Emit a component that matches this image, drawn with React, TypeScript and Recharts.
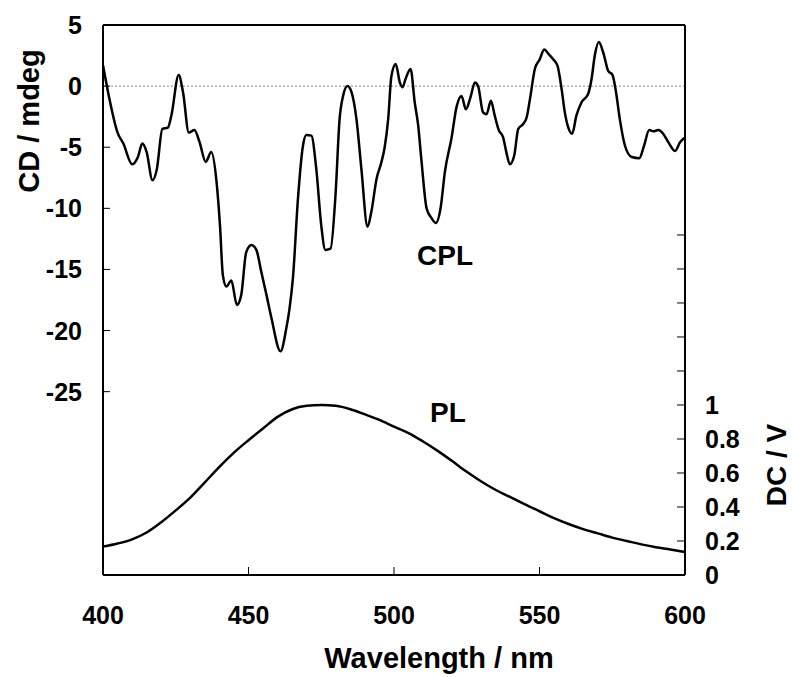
import React from 'react';
import { LineChart, Line, XAxis, YAxis, ReferenceLine } from 'recharts';

// CPL trace (CD / mdeg)
const cplWavelength = [
  400, 402, 405, 407, 410, 412, 413.5, 415, 417, 418.5, 420.4, 422.3, 423.5, 426, 427.5,
  429.5, 431.4, 433.2, 435.3, 437.2, 439, 440.2, 441.2, 442.4, 444.1, 446, 447.5, 449.2,
  451, 452.7, 454.4, 456.1, 457.9, 461, 463, 464.1, 465.3, 467, 468.7, 469.9, 471.6, 473.3,
  475, 476.4, 478.2, 479.9, 481.3, 482.5, 484, 485.4, 487.1, 488.8, 490.9, 492.2, 494,
  495.7, 496.8, 498, 499.1, 500.6, 502, 502.9, 504, 505.7, 507.1, 508.3, 509.4, 511.2,
  512.9, 514.4, 516, 517.5, 519.8, 521.5, 523.2, 524.7, 526.3, 527.8, 528.9, 530.6, 531.8,
  533.3, 534.6, 536, 537.5, 538.6, 539.8, 541.3, 542.7, 544.4, 545.6, 546.7, 548.4, 550.1,
  551.6, 553.2, 554.7, 556.2, 557.6, 558.7, 559.9, 561.2, 562.7, 564.5, 566.7, 567.9, 569,
  570.4, 571.9, 573.6, 575.1, 576.3, 577.6, 579.4, 581.7, 584.3, 585.9, 587.7, 589.1,
  590.8, 592.5, 594.3, 596.6, 598.3, 600,
];
const cplValues = [
  1.7, -0.8, -3.8, -4.7, -6.4, -5.8, -4.7, -5.4, -7.7, -6.8, -3.5, -3.4, -2.4, 0.9, -0.5,
  -3.8, -3.6, -4.6, -6.2, -5.4, -7.8, -11.4, -15.5, -16.4, -15.9, -17.9, -17.1, -13.6,
  -13.0, -13.4, -15.2, -17.0, -19.0, -21.7, -19.8, -18.2, -15.6, -9.2, -4.9, -4.0, -4.05, -6.8,
  -11.4, -13.4, -13.3, -8.9, -2.7, -0.8, 0.0, -0.5, -2.7, -6.8, -11.5, -10.3, -7.6,
  -6.2, -5.0, -2.7, 0.8, 1.8, 0.3, -0.1, 0.6, 1.4, -1.3, -3.2, -6.0, -10.0,
  -10.8, -11.2, -10.0, -7.0, -4.2, -1.7, -0.8, -1.9, -0.9, 0.3, 0.0, -2.15, -2.3,
  -1.2, -2.4, -3.6, -4.2, -5.4, -6.4, -5.7, -3.5, -3.1, -2.55, -1.1, 1.4, 2.2,
  3.0, 2.6, 2.2, 1.65, -0.25, -2.15, -3.4, -3.9, -2.4, -1.3, -0.65, 0.6, 2.5,
  3.6, 2.75, 1.25, 0.9, -0.5, -2.7, -4.9, -5.8, -5.9, -4.9, -3.6, -3.7,
  -3.6, -3.9, -4.6, -5.3, -4.6, -4.2,
];

// PL trace (DC / V)
const plWavelength = [
  400, 405, 410, 415, 420, 425, 430, 435, 440, 445, 450, 455, 460, 465, 470, 475, 480,
  485, 490, 495, 500, 505, 510, 515, 520, 525, 530, 535, 540, 545, 550, 555, 560, 565,
  570, 575, 580, 585, 590, 595, 600,
];
const plValues = [
  0.167, 0.185, 0.21, 0.25, 0.31, 0.38, 0.455, 0.545, 0.636, 0.72, 0.793, 0.862, 0.93,
  0.975, 0.995, 1.0, 0.995, 0.975, 0.945, 0.912, 0.873, 0.835, 0.785, 0.73, 0.67, 0.607,
  0.55, 0.5, 0.458, 0.415, 0.375, 0.335, 0.3, 0.27, 0.245, 0.22, 0.2, 0.18, 0.163, 0.15,
  0.135,
];

const xTicks = [400, 450, 500, 550, 600];
const cdTicks = [5, 0, -5, -10, -15, -20, -25];
const dcTicks = [0, 0.2, 0.4, 0.6, 0.8, 1, 1.2, 1.4, 1.6, 1.8, 2];
const dcLabels = [0, 0.2, 0.4, 0.6, 0.8, 1];

// merge both traces onto one wavelength list
const rows: Record<number, { w: number; cd?: number; dc?: number }> = {};
cplWavelength.forEach((w, i) => {
  rows[w] = { ...(rows[w] || { w }), cd: cplValues[i] };
});
plWavelength.forEach((w, i) => {
  rows[w] = { ...(rows[w] || { w }), dc: plValues[i] };
});
const data = Object.values(rows).sort((a, b) => a.w - b.w);

const FONT = '"Liberation Sans", Arial, Helvetica, sans-serif';
const TICK_FONT = 25;

const LeftTick = (props: any) => {
  const { x, y, payload } = props;
  const ax = x + 21;
  return (
    <g>
      <line x1={ax} y1={y} x2={ax + 7} y2={y} stroke="#000" strokeWidth={1} />
      <text x={x} y={y} dy="0.36em" textAnchor="end" fontFamily={FONT} fontWeight="bold" fontSize={TICK_FONT} fill="#000">
        {payload.value}
      </text>
    </g>
  );
};

const RightTick = (props: any) => {
  const { x, y, payload } = props;
  const ax = x - 20;
  const show = dcLabels.some((v) => Math.abs(v - payload.value) < 1e-6);
  return (
    <g>
      <line x1={ax} y1={y} x2={ax - 8} y2={y} stroke="#000" strokeWidth={1} />
      {show && (
        <text x={x} y={y} dy="0.36em" textAnchor="start" fontFamily={FONT} fontWeight="bold" fontSize={TICK_FONT} fill="#000">
          {Math.round(payload.value * 10) / 10}
        </text>
      )}
    </g>
  );
};

const BottomTick = (props: any) => {
  const { x, y, payload } = props;
  const ay = y - 31;
  return (
    <g>
      <line x1={x} y1={ay} x2={x} y2={ay - 8} stroke="#000" strokeWidth={1} />
      <text x={x} y={y} dy="0.72em" textAnchor="middle" fontFamily={FONT} fontWeight="bold" fontSize={TICK_FONT} fill="#000">
        {payload.value}
      </text>
    </g>
  );
};

export default function App() {
  return (
    <div style={{ position: 'absolute', left: 0, top: 0, width: 792, height: 677, background: '#fff' }}>
      <LineChart width={792} height={677} data={data} margin={{ top: 25, right: 0, bottom: 0, left: 0 }}>
        <XAxis
          dataKey="w"
          type="number"
          domain={[400, 600]}
          ticks={xTicks}
          allowDataOverflow
          height={102}
          tickSize={0}
          tickMargin={31}
          axisLine={{ stroke: '#000', strokeWidth: 2 }}
          tick={<BottomTick />}
        />
        <YAxis
          yAxisId="cd"
          orientation="left"
          type="number"
          domain={[-40, 5]}
          ticks={cdTicks}
          allowDataOverflow
          width={103}
          tickSize={0}
          tickMargin={21}
          axisLine={{ stroke: '#000', strokeWidth: 2 }}
          tick={<LeftTick />}
        />
        <YAxis
          yAxisId="dc"
          orientation="right"
          type="number"
          domain={[0, 3.235]}
          ticks={dcTicks}
          allowDataOverflow
          width={107}
          tickSize={0}
          tickMargin={20}
          axisLine={{ stroke: '#000', strokeWidth: 2 }}
          tick={<RightTick />}
        />
        <ReferenceLine yAxisId="cd" y={0} stroke="#888" strokeDasharray="2 2" strokeWidth={1} />
        <ReferenceLine yAxisId="cd" y={5} stroke="#000" strokeWidth={2} />
        <Line
          yAxisId="cd"
          dataKey="cd"
          type="monotone"
          stroke="#000"
          strokeWidth={2.5}
          dot={false}
          connectNulls
          isAnimationActive={false}
        />
        <Line
          yAxisId="dc"
          dataKey="dc"
          type="monotone"
          stroke="#000"
          strokeWidth={2.5}
          dot={false}
          connectNulls
          isAnimationActive={false}
        />
      </LineChart>
      <svg width={792} height={677} style={{ position: 'absolute', left: 0, top: 0, pointerEvents: 'none' }}>
        <g fontFamily={FONT} fontWeight="bold" fill="#000">
          <text x={29} y={121} transform="rotate(-90 29 121)" textAnchor="middle" dominantBaseline="central" fontSize={29}>
            CD / mdeg
          </text>
          <text x={776} y={465} transform="rotate(-90 776 465)" textAnchor="middle" dominantBaseline="central" fontSize={28}>
            DC / V
          </text>
          <text x={439} y={668} textAnchor="middle" fontSize={29}>
            Wavelength / nm
          </text>
          <text x={445} y={265} textAnchor="middle" fontSize={28}>
            CPL
          </text>
          <text x={448} y={422} textAnchor="middle" fontSize={28}>
            PL
          </text>
        </g>
      </svg>
    </div>
  );
}
